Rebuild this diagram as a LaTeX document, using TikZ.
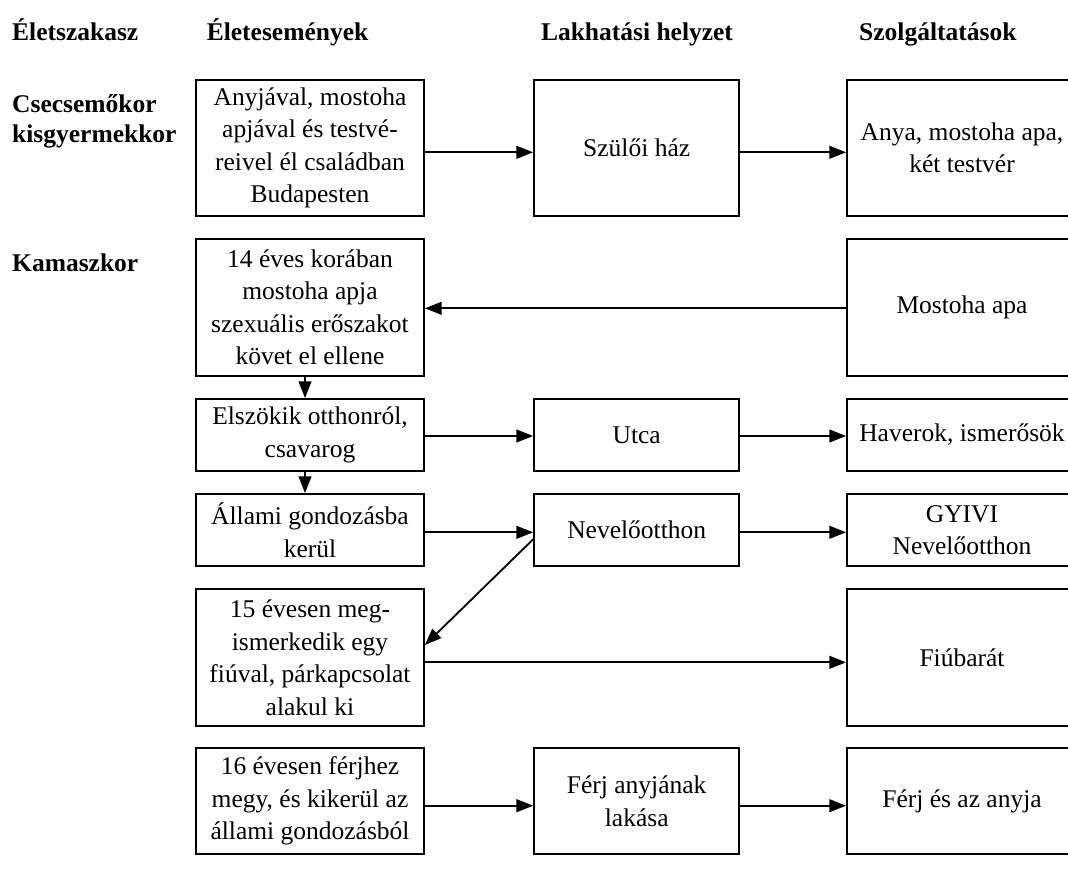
\documentclass[tikz,border=0pt]{standalone}
\usepackage{fontspec}
\setmainfont{Liberation Serif}
\usetikzlibrary{arrows.meta}

\begin{document}
\begin{tikzpicture}[x=1pt,y=-1pt,
  every node/.style={font=\fontsize{25.5}{32.5}\selectfont, inner sep=0pt},
  head/.style={font=\fontsize{25.5}{30}\selectfont\bfseries},
  stage/.style={draw, line width=1.8pt, align=center, minimum height=#1},
  lbox/.style={stage=#1, minimum width=228pt},
  mbox/.style={stage=#1, minimum width=205.3pt},
  rbox/.style={stage=#1, minimum width=230pt},
  arr/.style={line width=1.8pt, -{Triangle[length=16.7pt,width=12.7pt]}},
  link/.style={line width=1.8pt}
]
\useasboundingbox (0,0) rectangle (1068,870);
\clip (0,0) rectangle (1068,870);

% column headings
\node[head, anchor=base west] (h1) at (12,40) {Életszakasz};
\node[head, anchor=base west] (h2) at (206.6,40) {Életesemények};
\node[head, anchor=base] (h3) at (637,40) {Lakhatási helyzet};
\node[head, anchor=base west] (h4) at (859,40) {Szolgáltatások};

% life stages
\node[head, anchor=base west] (st1a) at (12,112) {Csecsemőkor};
\node[head, anchor=base west] (st1b) at (12,142) {kisgyermekkor};
\node[head, anchor=base west] (st2) at (12,271) {Kamaszkor};

% life events
\node[lbox=136pt] (a1) at (310,148) {Anyjával, mostoha\\apjával és testvé-\\reivel él családban\\Budapesten};
\node[lbox=137pt] (a2) at (310,307.5) {14 éves korában\\mostoha apja\\szexuális erőszakot\\követ el ellene};
\node[lbox=72pt] (a3) at (310,435) {Elszökik otthonról,\\csavarog};
\node[lbox=72pt] (a4) at (310,530) {Állami gondozásba\\kerül};
\node[lbox=137pt] (a5) at (310,657.5) {15 évesen meg-\\ismerkedik egy\\fiúval, párkapcsolat\\alakul ki};
\node[lbox=106pt] (a6) at (310,801) {16 évesen férjhez\\megy, és kikerül az\\állami gondozásból};

% housing
\node[mbox=136pt] (m1) at (636.7,148) {Szülői ház};
\node[mbox=72pt] (m3) at (636.7,435) {Utca};
\node[mbox=72pt] (m4) at (636.7,530) {Nevelőotthon};
\node[mbox=106pt] (m6) at (636.7,801) {Férj anyjának\\lakása};

% services
\node[rbox=136pt] (s1) at (962,148) {Anya, mostoha apa,\\két testvér};
\node[rbox=137pt] (s2) at (962,307.5) {Mostoha apa};
\node[rbox=72pt] (s3) at (962,435) {Haverok, ismerősök};
\node[rbox=72pt] (s4) at (962,530) {GYIVI\\Nevelőotthon};
\node[rbox=137pt] (s5) at (962,657.5) {Fiúbarát};
\node[rbox=106pt] (s6) at (962,801) {Férj és az anyja};

% connectors
\draw[arr] ([yshift=-4.3pt]a1.east) -- ([yshift=-4.3pt]m1.west);
\draw[arr] ([yshift=-4.3pt]m1.east) -- ([yshift=-4.3pt]s1.west);
\draw[arr] ([yshift=-0.8pt]s2.west) -- ([yshift=-0.8pt]a2.east);
\draw[arr] ([xshift=-5pt]a2.south) -- ([xshift=-5pt]a3.north);
\draw[arr] ([xshift=-5pt]a3.south) -- ([xshift=-5pt]a4.north);
\draw[arr] ([yshift=-1pt]a3.east) -- ([yshift=-1pt]m3.west);
\draw[arr] ([yshift=-1pt]m3.east) -- ([yshift=-1pt]s3.west);
\draw[arr] ([yshift=-2.3pt]a4.east) -- ([yshift=-2.3pt]m4.west);
\draw[arr] ([yshift=-2.3pt]m4.east) -- ([yshift=-2.3pt]s4.west);
\draw[arr] ([yshift=-9.3pt]m4.west) -- ([yshift=12.5pt]a5.east);
\draw[arr] ([yshift=-4.8pt]a5.east) -- ([yshift=-4.8pt]s5.west);
\draw[arr] ([yshift=-4.7pt]a6.east) -- ([yshift=-4.7pt]m6.west);
\draw[arr] ([yshift=-4.7pt]m6.east) -- ([yshift=-4.7pt]s6.west);
\end{tikzpicture}
\end{document}
